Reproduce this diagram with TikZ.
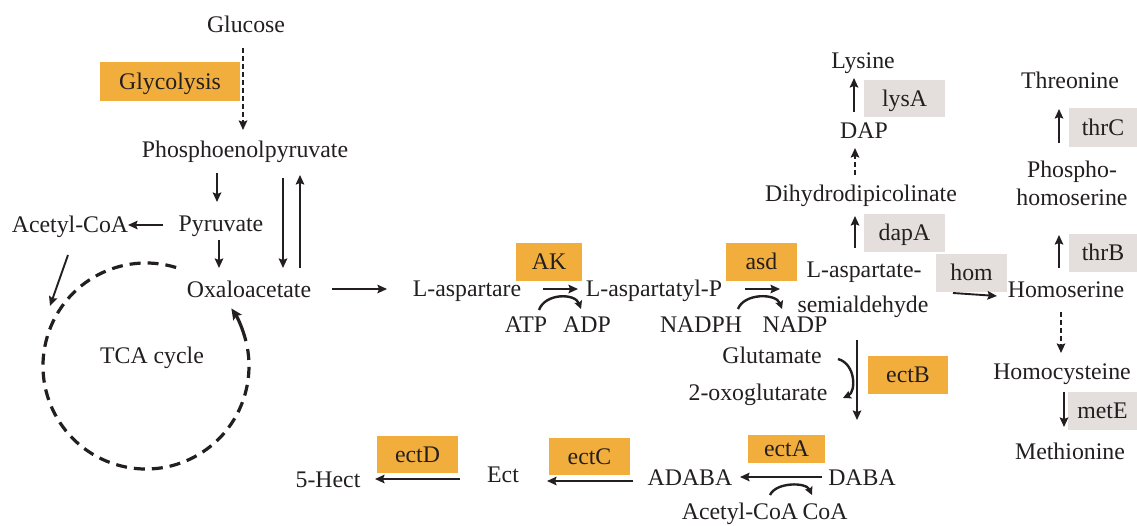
\documentclass[tikz,border=0pt]{standalone}
\usepackage{fontspec}
\setmainfont{Liberation Serif}
\usetikzlibrary{arrows.meta}
\definecolor{boxorange}{HTML}{F2AE3D}
\definecolor{boxgray}{HTML}{E4DFDC}
\definecolor{ink}{HTML}{231F20}
\begin{document}
\begin{tikzpicture}[x=1pt,y=-1pt,
  lbl/.style={font=\fontsize{23.8}{28}\selectfont, text=ink, inner sep=0pt, text height=15.7pt, text depth=0pt},
  obox/.style={lbl, fill=boxorange},
  gbox/.style={lbl, fill=boxgray},
  arr/.style={draw=ink, line width=1.9pt, -{Stealth[length=9.5pt,width=8.5pt,inset=1.5pt]}},
  dsh/.style={arr, dash pattern=on 5pt off 3pt},
  cur/.style={draw=ink, line width=2.4pt, -{Stealth[length=8pt,width=8pt,inset=1.5pt]}},
  tcad/.style={draw=ink, line width=3.2pt, dash pattern=on 11pt off 7pt},
  tcaa/.style={draw=ink, line width=3.2pt, -{Stealth[length=11pt,width=10pt,inset=2pt]}}]
\useasboundingbox (0,0) rectangle (1137,525);
\fill[white] (0,0) rectangle (1137,525);

% enzyme boxes
\node[obox, minimum width=140pt, minimum height=39pt] (gly) at (170,81.5) {Glycolysis};
\node[obox, minimum width=66pt, minimum height=38pt] (ak) at (549,262) {AK};
\node[obox, minimum width=71pt, minimum height=38pt] (asd) at (761.5,262) {asd};
\node[gbox, minimum width=71pt, minimum height=38pt] (hom) at (971.5,273) {hom};
\node[gbox, minimum width=81pt, minimum height=38pt] (dapa) at (904.5,233) {dapA};
\node[gbox, minimum width=81pt, minimum height=37pt] (lysa) at (904.5,98.5) {lysA};
\node[gbox, minimum width=68pt, minimum height=39pt] (thrc) at (1103,127.5) {thrC};
\node[gbox, minimum width=68pt, minimum height=38pt] (thrb) at (1103,253) {thrB};
\node[gbox, minimum width=69pt, minimum height=38pt] (mete) at (1102.5,411) {metE};
\node[obox, minimum width=80pt, minimum height=38pt] (ectb) at (908,375) {ectB};
\node[obox, minimum width=77pt, minimum height=28pt] (ecta) at (786.5,449) {ectA};
\node[obox, minimum width=81pt, minimum height=37pt] (ectc) at (589.5,456.5) {ectC};
\node[obox, minimum width=81pt, minimum height=37pt] (ectd) at (417.5,454.5) {ectD};

% metabolites
\node[lbl] (glu) at (246,25) {Glucose};
\node[lbl] (pep) at (245,150) {Phosphoenolpyruvate};
\node[lbl] (pyr) at (221,224) {Pyruvate};
\node[lbl] (acoa) at (70,225) {Acetyl-CoA};
\node[lbl] (oaa) at (249,290) {Oxaloacetate};
\node[lbl] (tca) at (152,356) {TCA cycle};
\node[lbl] (asp) at (467,289) {L-aspartare};
\node[lbl] (aspp) at (654,289) {L-aspartatyl-P};
\node[lbl] (atp) at (526,325) {ATP};
\node[lbl] (adp) at (587,325) {ADP};
\node[lbl] (nadph) at (701,325) {NADPH};
\node[lbl] (nadp) at (795,325) {NADP};
\node[lbl] (asa1) at (864,270) {L-aspartate-};
\node[lbl] (asa2) at (863,305) {semialdehyde};
\node[lbl] (hser) at (1066,290) {Homoserine};
\node[lbl] (dhdp) at (861,194) {Dihydrodipicolinate};
\node[lbl] (dap) at (864,131) {DAP};
\node[lbl] (lys) at (863,61) {Lysine};
\node[lbl] (thr) at (1070,81) {Threonine};
\node[lbl] (phos1) at (1072,170) {Phospho-};
\node[lbl] (phos2) at (1072,198) {homoserine};
\node[lbl] (hcy) at (1062,372) {Homocysteine};
\node[lbl] (met) at (1070,452) {Methionine};
\node[lbl] (glut) at (772,356) {Glutamate};
\node[lbl] (oxo) at (758,393) {2-oxoglutarate};
\node[lbl] (adaba) at (690,478) {ADABA};
\node[lbl] (daba) at (862,478) {DABA};
\node[lbl] (acoa2) at (740,512) {Acetyl-CoA};
\node[lbl] (coa) at (825,512) {CoA};
\node[lbl] (ect) at (503,475) {Ect};
\node[lbl] (hect) at (328,480) {5-Hect};

% glycolysis and TCA
\draw[dsh] ([shift={(-3,23)}]glu.center) -- ([shift={(-2,-20)}]pep.center);
\draw[arr] ([shift={(-28,23)}]pep.center) -- ([shift={(-4,-22)}]pyr.center);
\draw[arr] ([shift={(-58,1)}]pyr.center) -- ([shift={(58,0)}]acoa.center);
\draw[arr] ([shift={(-2,16)}]pyr.center) -- ([shift={(-30,-22)}]oaa.center);
\draw[arr] ([shift={(38,28)}]pep.center) -- ([shift={(34,-22)}]oaa.center);
\draw[arr] ([shift={(51,-22)}]oaa.center) -- ([shift={(55,25)}]pep.center);
\draw[arr] ([shift={(-2,30)}]acoa.center) -- ([shift={(-102,-50)}]tca.center);
\draw[tcad] ([shift={(24.1,-88.5)}]tca.center) arc[start angle=-73, end angle=-372, radius=103];
\draw[tcaa] ([shift={(93.9,-14.9)}]tca.center) arc[start angle=-14, end angle=-34, radius=103];

% aspartate pathway
\draw[arr] ([shift={(83,-1)}]oaa.center) -- ([shift={(-80,0)}]asp.center);
\draw[arr] ([shift={(76,0)}]asp.center) -- ([shift={(-76,0)}]aspp.center);
\draw[cur] ([shift={(13,-15)}]atp.center) .. controls ([shift={(19,-32)}]atp.center) and ([shift={(-12,-32)}]adp.center) .. ([shift={(-6,-16)}]adp.center);
\draw[arr] ([shift={(91,0)}]aspp.center) -- ([shift={(-83,-16)}]asa2.center);
\draw[cur] ([shift={(37,-16)}]nadph.center) .. controls ([shift={(43,-32)}]nadph.center) and ([shift={(-19,-32)}]nadp.center) .. ([shift={(-13,-16)}]nadp.center);
\draw[arr] ([shift={(90,-12)}]asa2.center) -- ([shift={(-69,6)}]hser.center);
\draw[arr] ([shift={(-9,-22)}]asa1.center) -- ([shift={(-6,22)}]dhdp.center);
\draw[dsh] ([shift={(-6,-19)}]dhdp.center) -- ([shift={(-9,17)}]dap.center);
\draw[arr] ([shift={(-10,-19)}]dap.center) -- ([shift={(-9,17)}]lys.center);
\draw[arr] ([shift={(-7,-22)}]hser.center) -- ([shift={(-13,37)}]phos2.center);
\draw[arr] ([shift={(-13,-27)}]phos1.center) -- ([shift={(-11,28)}]thr.center);
\draw[dsh] ([shift={(-5,22)}]hser.center) -- ([shift={(-1,-19)}]hcy.center);
\draw[arr] ([shift={(2,20)}]hcy.center) -- ([shift={(-6,-25)}]met.center);

% ectoine pathway
\draw[arr] ([shift={(-6,35)}]asa2.center) -- ([shift={(-5,-58)}]daba.center);
\draw[cur] ([shift={(66,3)}]glut.center) .. controls ([shift={(84,8)}]glut.center) and ([shift={(98,-1)}]oxo.center) .. ([shift={(85,5)}]oxo.center);
\draw[arr] ([shift={(-40,-1)}]daba.center) -- ([shift={(50,-1)}]adaba.center);
\draw[cur] ([shift={(30,-17)}]acoa2.center) .. controls ([shift={(36,-30)}]acoa2.center) and ([shift={(-19,-30)}]coa.center) .. ([shift={(-13,-17)}]coa.center);
\draw[arr] ([shift={(-57,3)}]adaba.center) -- ([shift={(44,6)}]ect.center);
\draw[arr] ([shift={(-43,4)}]ect.center) -- ([shift={(47,-1)}]hect.center);
\end{tikzpicture}
\end{document}
